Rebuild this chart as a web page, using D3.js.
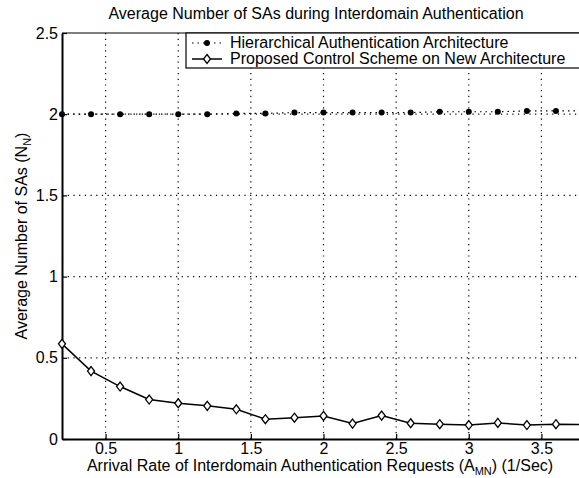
<!DOCTYPE html>
<html>
  <head>
    <meta charset="UTF-8" />
    <style>
      body { margin: 0; background: white; }
      svg { font-family: "Liberation Sans", Arial, sans-serif; }
    </style>
  </head>
  <body>
    <svg></svg>
    <script src="https://d3js.org/d3.v7.min.js"></script>
    <script>
      let width = 579,
        height = 478;

      // arrival rate (1/sec)
      let rates = [0.2, 0.4, 0.6, 0.8, 1.0, 1.2, 1.4, 1.6, 1.8, 2.0, 2.2, 2.4, 2.6, 2.8, 3.0, 3.2, 3.4, 3.6, 3.8];
      let hierarchical = [2.0, 2.0, 2.0, 2.0, 2.0, 2.0, 2.005, 2.005, 2.01, 2.01, 2.01, 2.01, 2.01, 2.015, 2.015, 2.015, 2.02, 2.02, 2.02];
      let proposed = [0.586, 0.418, 0.323, 0.243, 0.22, 0.204, 0.183, 0.122, 0.131, 0.142, 0.095, 0.144, 0.097, 0.091, 0.086, 0.099, 0.086, 0.091, 0.088];
      let xTicks = [0.5, 1, 1.5, 2, 2.5, 3, 3.5];
      let yTicks = [0, 0.5, 1, 1.5, 2, 2.5];
      let seriesNames = ["Hierarchical Authentication Architecture", "Proposed Control Scheme on New Architecture"];

      let margin = { left: 62, top: 33, right: -6, bottom: 39 };

      let svg = d3.select("svg").attr("width", width).attr("height", height);

      let x = d3.scaleLinear().domain([0.2, 3.8]).range([margin.left, width - margin.right]);
      let y = d3.scaleLinear().domain([0, 2.5]).range([height - margin.bottom, margin.top]);

      // grid lines
      let grid = svg.append("g").attr("stroke", "black").attr("stroke-width", 1.2).attr("stroke-dasharray", "1.2,4.5");
      grid.selectAll(".gx").data(xTicks).join("line")
        .attr("x1", d => x(d)).attr("x2", d => x(d))
        .attr("y1", y(0)).attr("y2", y(2.5));
      grid.selectAll(".gy").data(yTicks.filter(d => d > 0 && d < 2.5)).join("line")
        .attr("x1", x(0.2)).attr("x2", x(3.8))
        .attr("y1", d => y(d)).attr("y2", d => y(d));

      // axes (ticks drawn inwards, matlab style)
      let xAxis = svg.append("g").attr("transform", `translate(0,${y(0)})`)
        .call(d3.axisBottom(x).tickValues(xTicks).tickSizeInner(-5).tickSizeOuter(0).tickPadding(4).tickFormat(d3.format("")));
      let yAxis = svg.append("g").attr("transform", `translate(${x(0.2)},0)`)
        .call(d3.axisLeft(y).tickValues(yTicks).tickSizeInner(-5).tickSizeOuter(0).tickPadding(4).tickFormat(d3.format("")));
      [xAxis, yAxis].forEach(a => {
        a.select(".domain").attr("stroke-width", 2);
        a.selectAll("text").attr("font-size", 16).attr("fill", "black");
        a.selectAll(".tick line").attr("stroke-width", 1.2);
      });
      // top frame
      svg.append("line").attr("x1", x(0.2)).attr("x2", x(3.8)).attr("y1", y(2.5)).attr("y2", y(2.5))
        .attr("stroke", "black").attr("stroke-width", 1.2);

      // hierarchical series: dotted line + star dots
      let hData = rates.map((r, i) => [r, hierarchical[i]]);
      let pData = rates.map((r, i) => [r, proposed[i]]);
      let line = d3.line().x(d => x(d[0])).y(d => y(d[1]));

      svg.append("path").datum(hData).attr("d", line)
        .attr("fill", "none").attr("stroke", "black").attr("stroke-width", 1.2).attr("stroke-dasharray", "1.5,4");
      svg.append("g").selectAll("circle").data(hData).join("circle")
        .attr("cx", d => x(d[0])).attr("cy", d => y(d[1])).attr("r", 3).attr("fill", "black");

      // proposed series: solid line + diamonds
      svg.append("path").datum(pData).attr("d", line)
        .attr("fill", "none").attr("stroke", "black").attr("stroke-width", 1.5);
      let diamond = "M0,-4.5L3.5,0L0,4.5L-3.5,0Z";
      svg.append("g").selectAll("path").data(pData).join("path")
        .attr("transform", d => `translate(${x(d[0])},${y(d[1])})`)
        .attr("d", diamond).attr("fill", "white").attr("stroke", "black").attr("stroke-width", 1.3);

      // legend
      let lg = svg.append("g").attr("transform", "translate(186,33)");
      lg.append("rect").attr("x", 0).attr("y", 0).attr("width", 400).attr("height", 35)
        .attr("fill", "white").attr("stroke", "black").attr("stroke-width", 1.2);
      lg.append("line").attr("x1", 6).attr("x2", 36).attr("y1", 10).attr("y2", 10)
        .attr("stroke", "black").attr("stroke-width", 1.2).attr("stroke-dasharray", "1.5,4");
      lg.append("circle").attr("cx", 21).attr("cy", 10).attr("r", 3).attr("fill", "black");
      lg.append("line").attr("x1", 6).attr("x2", 36).attr("y1", 26).attr("y2", 26)
        .attr("stroke", "black").attr("stroke-width", 1.5);
      lg.append("path").attr("transform", "translate(21,26)").attr("d", diamond)
        .attr("fill", "white").attr("stroke", "black").attr("stroke-width", 1.3);
      lg.selectAll("text").data(seriesNames).join("text")
        .attr("x", 44).attr("y", (d, i) => 15 + i * 16)
        .attr("font-size", 16).text(d => d);

      // title
      svg.append("text").attr("x", 316).attr("y", 19).attr("text-anchor", "middle")
        .attr("font-size", 16).text("Average Number of SAs during Interdomain Authentication");

      // axis labels
      let xl = svg.append("text").attr("x", 320).attr("y", 471).attr("text-anchor", "middle").attr("font-size", 16);
      xl.append("tspan").text("Arrival Rate of Interdomain Authentication Requests (A");
      xl.append("tspan").attr("font-size", 11).attr("dy", 4).text("MN");
      xl.append("tspan").attr("dy", -4).text(") (1/Sec)");

      let yl = svg.append("text").attr("transform", "translate(27,236) rotate(-90)").attr("text-anchor", "middle").attr("font-size", 16);
      yl.append("tspan").text("Average Number of SAs (N");
      yl.append("tspan").attr("font-size", 11).attr("dy", 4).text("N");
      yl.append("tspan").attr("dy", -4).text(")");
    </script>
  </body>
</html>
